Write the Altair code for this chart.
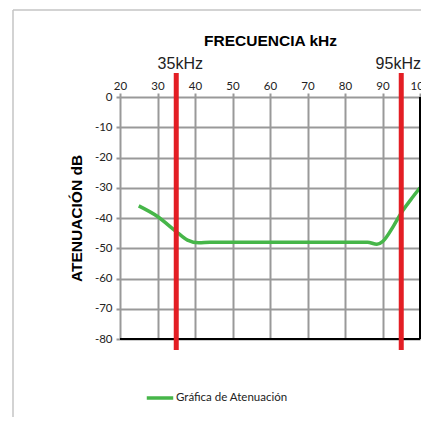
import altair as alt
import pandas as pd

freq = [25, 30, 35, 38, 41, 44, 50, 60, 70, 80, 86, 88.5, 90, 93, 95, 97.5, 100]
atten = [-36, -39.5, -44.5, -47.3, -48.2, -48, -48, -48, -48, -48, -48, -48.7, -47.8, -42.5, -38.3, -34, -30]
series_name = "Gráfica de Atenuación"
marker_freq = [35, 95]
marker_label = ["35kHz", "95kHz"]
x_ticks = [20, 30, 40, 50, 60, 70, 80, 90, 100]
y_ticks = [0, -10, -20, -30, -40, -50, -60, -70, -80]

curve = pd.DataFrame({"f": freq, "a": atten, "s": [series_name] * len(freq)})
markers = pd.DataFrame({"f": marker_freq, "label": marker_label})

W, H = 300, 242
xs = alt.Scale(domain=[20, 100], nice=False)
ys = alt.Scale(domain=[-80, 0], nice=False)
GREEN = "#46b649"
RED = "#e31e24"
LF = "Lato"

x_axis = alt.Axis(
    orient="top", values=x_ticks, title="FRECUENCIA kHz", titleFont="Liberation Sans",
    titleFontSize=15.5, titleFontWeight="bold", titleColor="#000", titlePadding=32,
    labelFont=LF, labelFontSize=11.5, labelColor="#222", labelPadding=2,
    grid=True, gridColor="#999999", gridWidth=2, domain=False, labelOverlap=False,
    tickColor="#999999", tickSize=4, tickWidth=2, labelFlush=False,
    labelExpr="'' + datum.value")
y_axis = alt.Axis(
    values=y_ticks, title="ATENUACIÓN dB", titleFont="Liberation Sans",
    titleFontSize=15.5, titleFontWeight="bold", titleColor="#000", titlePadding=10,
    labelFont=LF, labelFontSize=11.5, labelColor="#222", labelPadding=4,
    grid=True, gridColor="#999999", gridWidth=2, domain=False, labelOverlap=False,
    tickColor="#999999", tickSize=4, tickWidth=2, labelExpr="'' + datum.value")


def X():
    return alt.X("f:Q", scale=xs, axis=x_axis)


def Y():
    return alt.Y("a:Q", scale=ys, axis=y_axis)


line = alt.Chart(curve).mark_line(interpolate="monotone", strokeWidth=3.5).encode(
    x=X(), y=Y(),
    color=alt.Color("s:N", scale=alt.Scale(range=[GREEN]), legend=alt.Legend(
        title=None, orient="none", legendX=25, legendY=286, symbolType="stroke",
        symbolSize=700, symbolStrokeWidth=3.5, labelFont=LF, labelFontSize=11.5,
        labelColor="#222", labelOffset=1)))

bottom = alt.Chart(pd.DataFrame({"a": [-80]})).mark_rule(color="#000", strokeWidth=2).encode(y=Y())
right = alt.Chart(pd.DataFrame({"f": [100]})).mark_rule(color="#000", strokeWidth=2).encode(x=X())

red = alt.Chart(markers).mark_rule(color=RED, strokeWidth=5).encode(
    x=X(), y=alt.value(-24), y2=alt.value(253))
txt_kw = dict(font="Liberation Sans", fontSize=16, color="#222", baseline="middle")
red_txt1 = alt.Chart(markers).transform_filter("datum.f < 50").mark_text(dx=4, **txt_kw).encode(
    x=X(), y=alt.value(-33), text="label:N")
red_txt2 = alt.Chart(markers).transform_filter("datum.f > 50").mark_text(dx=-3, **txt_kw).encode(
    x=X(), y=alt.value(-33), text="label:N")

border_l = alt.Chart(pd.DataFrame({"k": [0]})).mark_rule(color="#c4c4c4", strokeWidth=1.5).encode(
    x=alt.value(-107), y=alt.value(-87), y2=alt.value(340))
border_t = alt.Chart(pd.DataFrame({"k": [0]})).mark_rule(color="#c4c4c4", strokeWidth=1.5).encode(
    x=alt.value(-107), x2=alt.value(320), y=alt.value(-87))

chart = alt.layer(border_l, border_t, line, bottom, right, red, red_txt1, red_txt2).properties(
    width=W, height=H,
    autosize=alt.AutoSizeParams(type="none"),
    padding={"left": 112, "top": 89, "right": 1, "bottom": 78},
).configure_view(stroke=None).configure(background="white")

chart.save("out.html", embed_options={"renderer": "svg", "actions": False})
